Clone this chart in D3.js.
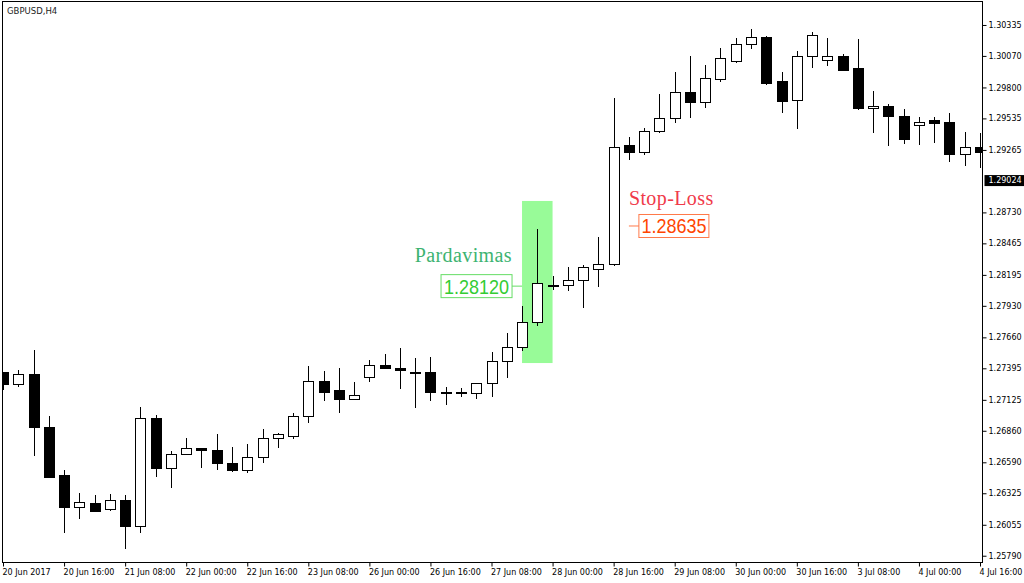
<!DOCTYPE html>
<html>
<head>
<meta charset="utf-8">
<script src="https://cdn.jsdelivr.net/npm/d3@7"></script>
<style>
body { margin: 0; background: #fff; }
svg { display: block; }
</style>
</head>
<body>
<script>
// Donnees du graphique (GBPUSD, H4)
var dateLabels = ["20 Jun 2017", "20 Jun 16:00", "21 Jun 08:00", "22 Jun 00:00", "22 Jun 16:00",
	"23 Jun 08:00", "26 Jun 00:00", "26 Jun 16:00", "27 Jun 08:00", "28 Jun 00:00", "28 Jun 16:00",
	"29 Jun 08:00", "30 Jun 00:00", "30 Jun 16:00", "3 Jul 08:00", "4 Jul 00:00", "4 Jul 16:00"];
var barsPerLabel = 4;

var opens = [1.27355,1.27252,1.27346,1.26892,1.26473,1.26199,1.26241,1.26182,1.26267,1.26036,
	1.26969,1.26541,1.26661,1.26704,1.26687,1.26584,1.26524,1.26627,1.26790,1.26815,
	1.26978,1.27278,1.27201,1.27132,1.27312,1.27423,1.27389,1.27363,1.27355,1.27192,
	1.27192,1.27175,1.27261,1.27449,1.27577,1.27783,1.28108,1.28100,1.28151,1.28245,
	1.28280,1.29299,1.29239,1.29427,1.29530,1.29753,1.29667,1.29864,1.30018,1.30164,
	1.30232,1.29855,1.29684,1.30061,1.30027,1.30061,1.29958,1.29616,1.29641,1.29547,
	1.29470,1.29513,1.29496,1.29230,1.29282];
var highs = [1.27365,1.27380,1.27552,1.26987,1.26524,1.26327,1.26310,1.26319,1.26310,1.27064,
	1.26995,1.26687,1.26798,1.26713,1.26832,1.26721,1.26747,1.26875,1.26841,1.27012,
	1.27415,1.27372,1.27398,1.27278,1.27466,1.27517,1.27569,1.27483,1.27492,1.27235,
	1.27226,1.27272,1.27535,1.27697,1.27929,1.28588,1.28185,1.28263,1.28280,1.28519,
	1.29710,1.29376,1.29453,1.29744,1.29933,1.30070,1.29992,1.30138,1.30224,1.30301,
	1.30241,1.29933,1.30112,1.30275,1.30224,1.30087,1.30215,1.29770,1.29658,1.29616,
	1.29547,1.29547,1.29581,1.29419,1.29410];
var lows = [1.27209,1.27235,1.26644,1.26460,1.25985,1.26104,1.26165,1.26173,1.25848,1.25985,
	1.26464,1.26370,1.26658,1.26541,1.26524,1.26507,1.26498,1.26584,1.26713,1.26790,
	1.26926,1.27115,1.27012,1.27124,1.27278,1.27385,1.27218,1.27055,1.27115,1.27081,
	1.27149,1.27132,1.27149,1.27312,1.27543,1.27757,1.28066,1.28057,1.27911,1.28091,
	1.28271,1.29179,1.29222,1.29410,1.29496,1.29539,1.29624,1.29847,1.30010,1.30129,
	1.29821,1.29581,1.29444,1.29967,1.29984,1.29938,1.29607,1.29410,1.29299,1.29316,
	1.29307,1.29324,1.29162,1.29128,1.29110];
var closes = [1.27252,1.27346,1.26884,1.26464,1.26199,1.26250,1.26173,1.26267,1.26036,1.26969,
	1.26541,1.26661,1.26704,1.26695,1.26584,1.26524,1.26627,1.26798,1.26824,1.26978,
	1.27278,1.27192,1.27132,1.27158,1.27423,1.27389,1.27372,1.27355,1.27192,1.27188,
	1.27190,1.27269,1.27449,1.27569,1.27783,1.28120,1.28100,1.28151,1.28254,1.28280,
	1.29290,1.29239,1.29419,1.29530,1.29753,1.29667,1.29873,1.30052,1.30164,1.30232,
	1.29838,1.29676,1.30061,1.30249,1.30061,1.29941,1.29616,1.29641,1.29547,1.29350,
	1.29504,1.29487,1.29230,1.29282,1.29247];

var priceTicks = [1.30335, 1.30070, 1.29800, 1.29535, 1.29265, 1.28730, 1.28465, 1.28195,
	1.27930, 1.27660, 1.27395, 1.27125, 1.26860, 1.26590, 1.26325, 1.26055, 1.25790];
var yMin = 1.25732;
var yMax = 1.30536;

// Objets dessines sur le graphique
var lastPrice = 1.29024;
var entryPrice = 1.28120;
var entryBar = 34;
var stopPrice = 1.28635;
var stopBar = 41;
var zoneTop = 1.28828;
var zoneBottom = 1.27440;
var zoneStart = 34;
var zoneEnd = 36;

// Mise en page
var w = 1024;
var h = 583;
var plotLeft = 2.5;
var plotRight = 982.5;
var plotTop = 1.5;
var plotBottom = 562.5;
var bodyW = 10;
var labelShift = 2.5;
var axisFont = "'DejaVu Sans', sans-serif";

var svg = d3.select("body")
	.append("svg")
	.attr("width", w)
	.attr("height", h);

var x = d3.scaleLinear()
	.domain([0, opens.length - 1])
	.range([3, 980]);

var y = d3.scaleLinear()
	.domain([yMin, yMax])
	.range([plotBottom, plotTop]);

function px(i) { return Math.round(x(i)) + 0.5; }

var candles = opens.map(function(o, i) {
	return { i: i, o: o, h: highs[i], l: lows[i], c: closes[i] };
});

svg.append("clipPath")
	.attr("id", "plotClip")
	.append("rect")
	.attr("x", plotLeft)
	.attr("y", plotTop)
	.attr("width", plotRight - plotLeft)
	.attr("height", plotBottom - plotTop);

var plot = svg.append("g")
	.attr("clip-path", "url(#plotClip)");

// Zone verte de vente
plot.append("rect")
	.attr("x", x(zoneStart))
	.attr("y", y(zoneTop))
	.attr("width", x(zoneEnd) - x(zoneStart))
	.attr("height", y(zoneBottom) - y(zoneTop))
	.style("fill", "#98fb98");

// Les bougies
plot.selectAll(".wick")
	.data(candles)
	.enter()
	.append("line")
	.attr("class", "wick")
	.attr("x1", function(d) { return px(d.i); })
	.attr("x2", function(d) { return px(d.i); })
	.attr("y1", function(d) { return y(d.h); })
	.attr("y2", function(d) { return y(d.l); })
	.style("stroke", "#000")
	.style("stroke-width", 1)
	.style("shape-rendering", "crispEdges");

plot.selectAll(".body")
	.data(candles)
	.enter()
	.append("rect")
	.attr("class", "body")
	.attr("x", function(d) { return px(d.i) - bodyW / 2; })
	.attr("width", bodyW)
	.attr("y", function(d) { return y(Math.max(d.o, d.c)); })
	.attr("height", function(d) { return Math.max(1, Math.abs(y(d.o) - y(d.c))); })
	.style("fill", function(d) { return d.c > d.o ? "#fff" : "#000"; })
	.style("stroke", "#000")
	.style("stroke-width", 1)
	.style("shape-rendering", "crispEdges");

// Etiquette d'entree (Pardavimas)
var ex = x(entryBar);
var ey = y(entryPrice) + labelShift;

plot.append("line")
	.attr("x1", ex - 10).attr("x2", ex)
	.attr("y1", ey).attr("y2", ey)
	.style("stroke", "#66dd66");

plot.append("rect")
	.attr("x", ex - 10 - 71)
	.attr("y", ey - 11.5)
	.attr("width", 71)
	.attr("height", 23)
	.style("fill", "none")
	.style("stroke", "#66dd66");

plot.append("text")
	.text(entryPrice.toFixed(5))
	.attr("x", ex - 10 - 35.5)
	.attr("y", ey + 7.5)
	.attr("text-anchor", "middle")
	.attr("textLength", 65)
	.attr("lengthAdjust", "spacingAndGlyphs")
	.style("font-family", "'Liberation Sans', Arial, sans-serif")
	.style("font-size", "21px")
	.style("fill", "#33cc33");

plot.append("text")
	.text("Pardavimas")
	.attr("x", ex - 10)
	.attr("y", ey - 24)
	.attr("text-anchor", "end")
	.style("font-family", "'Liberation Serif', 'Times New Roman', serif")
	.style("font-size", "20px")
	.style("letter-spacing", "0.4px")
	.style("fill", "#3cb371");

// Etiquette du stop-loss
var sx = x(stopBar);
var sy = y(stopPrice) + labelShift;

plot.append("line")
	.attr("x1", sx).attr("x2", sx + 10)
	.attr("y1", sy).attr("y2", sy)
	.style("stroke", "#ff7a4a");

plot.append("rect")
	.attr("x", sx + 10)
	.attr("y", sy - 11.5)
	.attr("width", 70)
	.attr("height", 23)
	.style("fill", "none")
	.style("stroke", "#ff7a4a");

plot.append("text")
	.text(stopPrice.toFixed(5))
	.attr("x", sx + 10 + 35)
	.attr("y", sy + 7.5)
	.attr("text-anchor", "middle")
	.attr("textLength", 65)
	.attr("lengthAdjust", "spacingAndGlyphs")
	.style("font-family", "'Liberation Sans', Arial, sans-serif")
	.style("font-size", "21px")
	.style("fill", "#ff4500");

plot.append("text")
	.text("Stop-Loss")
	.attr("x", sx)
	.attr("y", sy - 21)
	.style("font-family", "'Liberation Serif', 'Times New Roman', serif")
	.style("font-size", "20px")
	.style("letter-spacing", "0.4px")
	.style("fill", "#f03a4a");

// Cadre
svg.append("rect")
	.attr("x", plotLeft)
	.attr("y", plotTop)
	.attr("width", plotRight - plotLeft)
	.attr("height", plotBottom - plotTop)
	.style("fill", "none")
	.style("stroke", "#000")
	.style("shape-rendering", "crispEdges");

// Titre
svg.append("text")
	.text("GBPUSD,H4")
	.attr("x", 7)
	.attr("y", 14)
	.style("font-family", axisFont)
	.style("font-size", "8.5px")
	.style("fill", "#222");

// Axe des prix
var yAxis = d3.axisRight(y)
	.tickValues(priceTicks)
	.tickSize(4)
	.tickPadding(2)
	.tickFormat(d3.format(".5f"));

var gy = svg.append("g")
	.attr("transform", "translate(" + plotRight + ",0)")
	.call(yAxis);
gy.select(".domain").remove();
gy.selectAll("text")
	.style("font-family", axisFont)
	.style("font-size", "8px")
	.style("fill", "#000");

// Prix actuel
var ly = y(lastPrice) + labelShift;
svg.append("rect")
	.attr("x", plotRight + 2)
	.attr("y", ly - 5.5)
	.attr("width", w - plotRight - 2)
	.attr("height", 11)
	.style("fill", "#000");
svg.append("text")
	.text(lastPrice.toFixed(5))
	.attr("x", plotRight + 6)
	.attr("y", ly)
	.attr("dy", "0.32em")
	.style("font-family", axisFont)
	.style("font-size", "8px")
	.style("fill", "#fff");

// Axe du temps
var xAxis = d3.axisBottom(x)
	.tickValues(dateLabels.map(function(d, i) { return i * barsPerLabel; }))
	.tickSize(4)
	.tickPadding(3)
	.tickFormat(function(d) { return dateLabels[d / barsPerLabel]; });

var gx = svg.append("g")
	.attr("transform", "translate(0," + plotBottom + ")")
	.call(xAxis);
gx.select(".domain").remove();
gx.selectAll("text")
	.attr("text-anchor", "start")
	.attr("x", -1)
	.style("font-family", axisFont)
	.style("font-size", "8px")
	.style("fill", "#000");
</script>
</body>
</html>
